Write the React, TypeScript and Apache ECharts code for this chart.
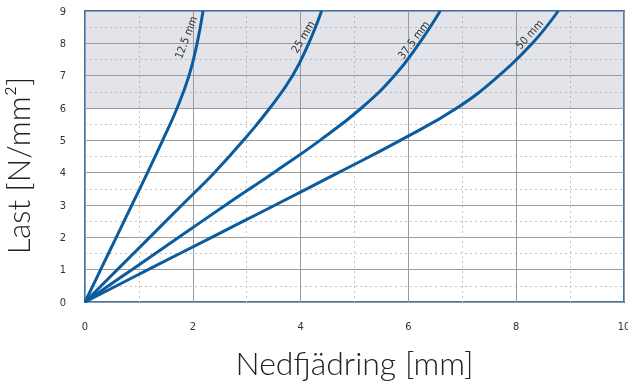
import React, { useEffect, useRef } from "react";
import * as echarts from "echarts";

const seriesNames = ["12.5 mm", "25 mm", "37.5 mm", "50 mm"];

const curve125: [number, number][] = [
  [0, 0], [0.29, 1], [0.58, 2], [0.87, 3], [1.16, 4], [1.44, 5],
  [1.71, 6], [1.93, 7], [2.08, 8], [2.19, 9],
];
const curve25: [number, number][] = [
  [0, 0], [0.6, 1], [1.2, 2], [1.8, 3], [2.4, 4], [2.94, 5],
  [3.43, 6], [3.85, 7], [4.15, 8], [4.39, 9],
];
const curve375: [number, number][] = [
  [0, 0], [0.87, 1], [1.74, 2], [2.61, 3], [3.5, 4], [4.36, 5],
  [5.13, 6], [5.74, 7], [6.2, 8], [6.59, 9],
];
const curve50: [number, number][] = [
  [0, 0], [1.17, 1], [2.35, 2], [3.53, 3], [4.7, 4], [5.85, 5],
  [6.9, 6], [7.68, 7], [8.3, 8], [8.78, 9],
];
const curves = [curve125, curve25, curve375, curve50];

// label anchor positions in data space and rotation (degrees)
const labelAnchors: [number, number][] = [[1.88, 8.18], [4.05, 8.2], [6.1, 8.1], [8.25, 8.27]];
const labelAngles = [69, 59, 53, 48];

const xTicks = [0, 2, 4, 6, 8, 10];
const yMax = 9;
const bandFrom = 6;
const bandTo = 9;

export default function App() {
  const ref = useRef<HTMLDivElement>(null);
  useEffect(() => {
    if (!ref.current) return;
    const chart = echarts.init(ref.current, undefined, { renderer: "svg" });
    const tickFont = '"DejaVu Sans Condensed", "Roboto", sans-serif';
    const titleFont = '"Lato", "Noto Sans", sans-serif';
    const option: any = {
      animation: false,
      grid: {
        left: 85, right: 4, top: 11, bottom: 79,
        outerBoundsMode: "none",
        containLabel: false,
        show: true, borderColor: "#3575b3", borderWidth: 2, backgroundColor: "transparent",
      },
      xAxis: {
        type: "value", min: xTicks[0], max: xTicks[xTicks.length - 1], interval: 2,
        name: "Nedfjädring [mm]", nameLocation: "middle", nameGap: 44,
        nameTextStyle: { fontFamily: titleFont, fontSize: 32, fontWeight: 300, color: "#222" },
        axisLine: { show: false }, axisTick: { show: false },
        axisLabel: { margin: 19, fontFamily: tickFont, fontSize: 11, color: "#333" },
        splitLine: { show: true, lineStyle: { color: "#9a9a9a", width: 1 } },
        minorTick: { show: false, splitNumber: 2 },
        minorSplitLine: { show: true, lineStyle: { color: "#c4c4c4", type: [2, 3], width: 1 } },
      },
      yAxis: {
        type: "value", min: 0, max: yMax, interval: 1,
        name: "Last [N/mm²]", nameLocation: "middle", nameGap: 52,
        nameTextStyle: {
          fontFamily: titleFont, fontSize: 31, fontWeight: 300, color: "#222",
          padding: [0, 18, 0, 0],
        },
        axisLine: { show: false }, axisTick: { show: false },
        axisLabel: { margin: 19, fontFamily: tickFont, fontSize: 11, color: "#333" },
        splitLine: { show: true, lineStyle: { color: "#9a9a9a", width: 1 } },
        minorTick: { show: false, splitNumber: 2 },
        minorSplitLine: { show: true, lineStyle: { color: "#c4c4c4", type: [2, 3], width: 1 } },
      },
      series: curves.map((c, i) => ({
        type: "line",
        name: seriesNames[i],
        data: c,
        smooth: 0.45,
        showSymbol: false,
        symbol: "none",
        lineStyle: { color: "#0b5c9e", width: 3 },
        z: 3,
        markArea: i === 0 ? {
          silent: true,
          itemStyle: { color: "rgba(150,156,172,0.27)" },
          data: [[{ yAxis: bandFrom }, { yAxis: bandTo }]],
        } : undefined,
      })),
    };
    chart.setOption(option);
    const graphics = labelAnchors.map((a, i) => {
      const p = chart.convertToPixel({ gridIndex: 0 }, a) as number[];
      return {
        type: "text",
        x: p[0], y: p[1],
        rotation: (labelAngles[i] * Math.PI) / 180,
        z: 10,
        style: {
          text: seriesNames[i], fill: "#333", fontSize: 11, fontFamily: tickFont,
          align: "center", verticalAlign: "middle",
        },
      };
    });
    chart.setOption({ graphic: graphics });
    return () => chart.dispose();
  }, []);
  return <div ref={ref} style={{ position: "fixed", left: 0, top: 0, width: 628, height: 381 }} />;
}
